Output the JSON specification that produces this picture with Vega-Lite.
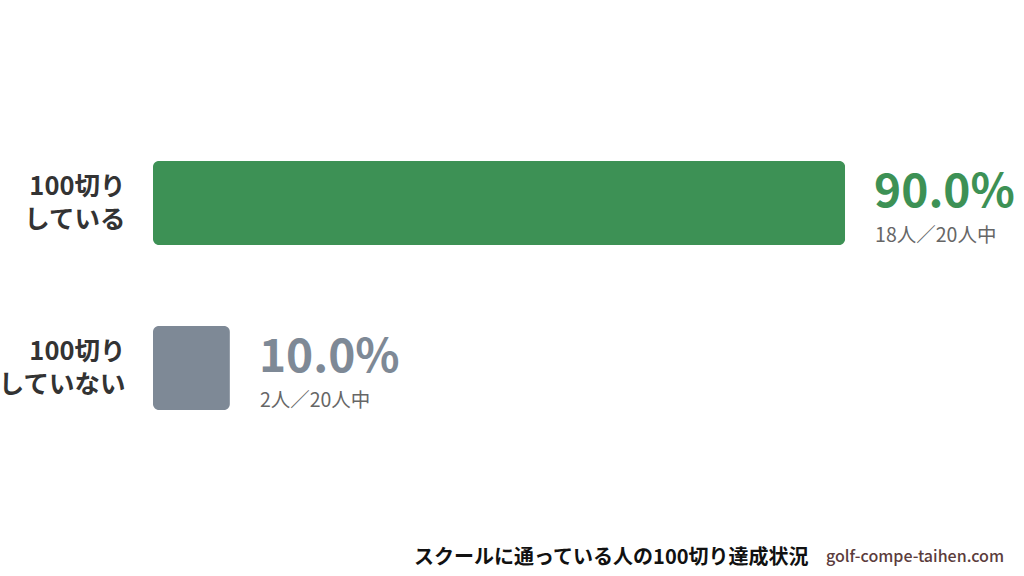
{
  "$schema": "https://vega.github.io/schema/vega-lite/v6.json",
  "width": 1024,
  "height": 576,
  "autosize": {"type": "none"},
  "padding": 0,
  "background": "white",
  "config": {
    "view": {"stroke": null},
    "font": "Noto Sans CJK JP"
  },
  "title": {
    "text": "golf-compe-taihen.com",
    "orient": "bottom",
    "anchor": "end",
    "font": "Noto Sans CJK JP",
    "fontSize": 16,
    "fontWeight": 500,
    "color": "#5b3c3c",
    "offset": -27,
    "dx": -20
  },
  "data": {
    "values": [
      {"group": "100切り している", "rate": 0.9, "count": 18, "total": 20},
      {"group": "100切り していない", "rate": 0.1, "count": 2, "total": 20}
    ]
  },
  "transform": [
    {"calculate": "datum.count + '人／' + datum.total + '人中'", "as": "detail"}
  ],
  "encoding": {
    "y": {
      "field": "group",
      "type": "nominal",
      "sort": null,
      "scale": {"range": [120.5, 450.5], "paddingInner": 0.49, "paddingOuter": 0.245},
      "axis": {
        "title": null,
        "domain": false,
        "ticks": false,
        "offset": -130,
        "labelPadding": 5,
        "labelFontSize": 25.5,
        "labelFontWeight": "bold",
        "labelColor": "#333333",
        "labelLineHeight": 33,
        "labelOffset": -16,
        "labelExpr": "split(datum.value, ' ')"
      }
    },
    "x": {
      "field": "rate",
      "type": "quantitative",
      "scale": {"domain": [0, 1], "range": [153, 922]},
      "axis": {
        "grid": false,
        "domain": false,
        "ticks": false,
        "labels": false,
        "title": "スクールに通っている人の100切り達成状況",
        "titleFontSize": 20,
        "titleFontWeight": "bold",
        "titleColor": "#111111",
        "titleAnchor": null,
        "titleX": 808,
        "titleY": -13,
        "titleAlign": "right",
        "titleBaseline": "alphabetic"
      }
    },
    "color": {
      "field": "group",
      "type": "nominal",
      "scale": {
        "domain": ["100切り している", "100切り していない"],
        "range": ["#3d9155", "#7e8996"]
      },
      "legend": null
    }
  },
  "layer": [
    {"mark": {"type": "bar", "cornerRadius": 6}},
    {
      "mark": {"type": "text", "align": "left", "baseline": "alphabetic", "dx": 29, "dy": 4, "fontSize": 46, "fontWeight": "bold"},
      "encoding": {"text": {"field": "rate", "type": "quantitative", "format": ".1%"}}
    },
    {
      "mark": {"type": "text", "align": "left", "baseline": "alphabetic", "dx": 30, "dy": 39, "fontSize": 19.5},
      "encoding": {"text": {"field": "detail"}, "color": {"value": "#666666"}}
    }
  ]
}
